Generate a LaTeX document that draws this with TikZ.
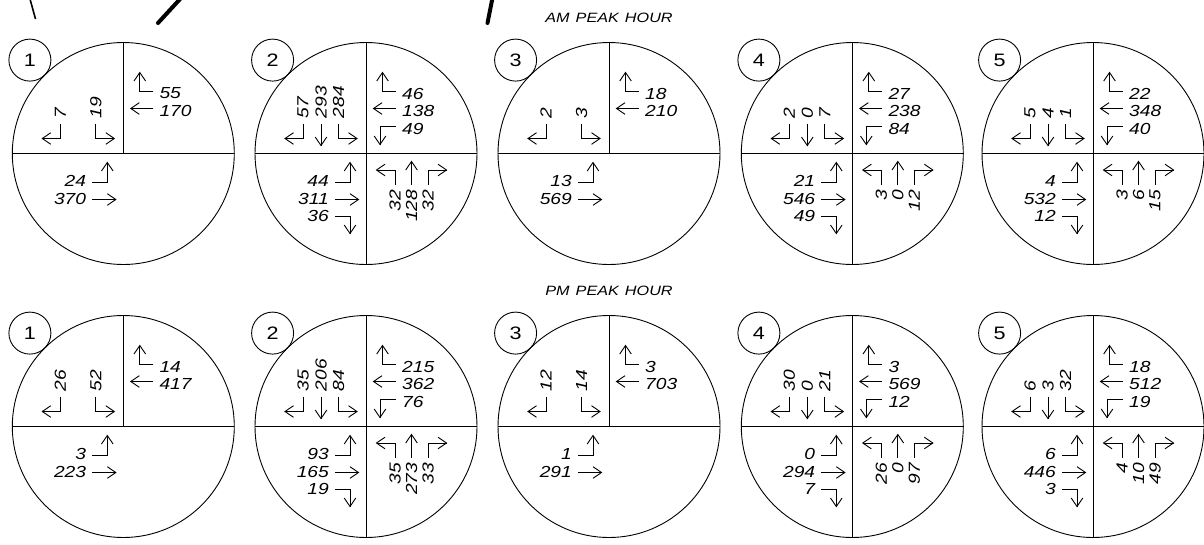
\documentclass[tikz,border=0pt]{standalone}
\usepackage{fontspec}
\newfontfamily\cadfont{Liberation Sans}[FakeStretch=1.2]
\usetikzlibrary{arrows.meta}
\tikzset{
  ln/.style={line width=0.9pt, draw=black},
  hd/.pic={\draw[ln, line join=miter] (-8.5,-5.8) -- (0,0) -- (-8.5,5.8);},
  big/.style={circle, ln, minimum size=222pt, inner sep=0pt, outer sep=0pt},
  tag/.style={circle, ln, minimum size=42pt, inner sep=0pt, outer sep=0pt, text=black,
    font=\cadfont\fontsize{18}{18}\selectfont},
  num/.style={inner sep=0pt, text=black, font=\cadfont\itshape\fontsize{16}{16}\selectfont},
  vnum/.style={num, rotate=90},
  ttl/.style={inner sep=0pt, text=black, font=\cadfont\itshape\fontsize{13.5}{13.5}\selectfont},
  stroke/.style={line width=4pt, line cap=round, draw=black}
}
% arrow heads: right 0, up 90, left 180, down -90
\newcommand\tipR[1]{\pic at #1 {hd};}
\newcommand\tipL[1]{\pic[rotate=180] at #1 {hd};}
\newcommand\tipU[1]{\pic[rotate=90] at #1 {hd};}
\newcommand\tipD[1]{\pic[rotate=-90] at #1 {hd};}
% movements, drawn in a scope shifted to the junction centre
\newcommand\ulL[1]{\draw[ln] (-63,-30) -- (-63,-15) -- (-81,-15); \tipL{(-81,-15)} \node[vnum,anchor=west] (\J ulL) at (-63,-35) {#1};}
\newcommand\ulT[1]{\draw[ln] (-45,-30) -- (-45,-8); \tipD{(-45,-8)} \node[vnum,anchor=west] (\J ulT) at (-45,-35) {#1};}
\newcommand\ulR[1]{\draw[ln] (-27.5,-30) -- (-27.5,-15) -- (-9,-15); \tipR{(-9,-15)} \node[vnum,anchor=west] (\J ulR) at (-27.5,-35) {#1};}
\newcommand\urU[1]{\draw[ln] (30,-62.5) -- (16.5,-62.5) -- (16.5,-81); \tipU{(16.5,-81)} \node[num,anchor=west] (\J urU) at (36,-60) {#1};}
\newcommand\urT[1]{\draw[ln] (30,-45) -- (7.5,-45); \tipL{(7.5,-45)} \node[num,anchor=west] (\J urT) at (36,-43) {#1};}
\newcommand\urR[1]{\draw[ln] (30,-27) -- (14,-27) -- (14,-9); \tipD{(14,-9)} \node[num,anchor=west] (\J urR) at (36,-25) {#1};}
\newcommand\llU[1]{\draw[ln] (-31,28.5) -- (-16,28.5) -- (-16,9); \tipU{(-16,9)} \node[num,anchor=east] (\J llU) at (-37,27) {#1};}
\newcommand\llT[1]{\draw[ln] (-31,46) -- (-7.5,46); \tipR{(-7.5,46)} \node[num,anchor=east] (\J llT) at (-37,45.5) {#1};}
\newcommand\llR[1]{\draw[ln] (-31,62.5) -- (-16,62.5) -- (-16,80); \tipD{(-16,80)} \node[num,anchor=east] (\J llR) at (-37,62) {#1};}
\newcommand\lrL[1]{\draw[ln] (29,31.5) -- (29,16.5) -- (10.5,16.5); \tipL{(10.5,16.5)} \node[vnum,anchor=east] (\J lrL) at (29,36) {#1};}
\newcommand\lrT[1]{\draw[ln] (45.5,31.5) -- (45.5,8); \tipU{(45.5,8)} \node[vnum,anchor=east] (\J lrT) at (45.5,36) {#1};}
\newcommand\lrR[1]{\draw[ln] (62,31.5) -- (62,16.5) -- (80.5,16.5); \tipR{(80.5,16.5)} \node[vnum,anchor=east] (\J lrR) at (62,36) {#1};}
% junction frame: name, cx, cy, tag, full cross (1) or half (0)
\newcommand\jct[5]{%
  \node[big] (#1) at (#2,#3) {};
  \node[tag] (#1t) at ({#2-93.4},{#3-93.4}) {#4};
  \draw[ln] (#1.west) -- (#1.east);
  \ifnum#5=1 \draw[ln] (#1.north) -- (#1.south);\else\draw[ln] (#1.north) -- (#1.center);\fi
}
\begin{document}
\begin{tikzpicture}[x=1pt,y=-1pt]
\useasboundingbox (0,0) rectangle (1204,544);
\fill[white] (0,0) rectangle (1204,544);
% cut-off strokes at the top edge
\draw[line width=1.6pt, draw=black] (30,-1) -- (35.5,19);
\draw[stroke] (181,-2) -- (158,23);
\draw[stroke] (492.5,-2) -- (487.5,23);
% titles
\node[ttl] (amt) at (609,18) {AM\hspace{0.45em}PEAK\hspace{0.45em}HOUR};
\node[ttl] (pmt) at (609,291) {PM\hspace{0.45em}PEAK\hspace{0.45em}HOUR};
% ---------------- AM ----------------
\jct{a1}{123.3}{153.5}{1}{0}
\begin{scope}[shift={(123.3,153.5)}]\def\J{a1}
 \ulL{7}\ulR{19}\urU{55}\urT{170}\llU{24}\llT{370}
\end{scope}
\jct{a2}{366}{153.5}{2}{1}
\begin{scope}[shift={(366,153.5)}]\def\J{a2}
 \ulL{57}\ulT{293}\ulR{284}\urU{46}\urT{138}\urR{49}
 \llU{44}\llT{311}\llR{36}\lrL{32}\lrT{128}\lrR{32}
\end{scope}
\jct{a3}{609}{153.5}{3}{0}
\begin{scope}[shift={(609,153.5)}]\def\J{a3}
 \ulL{2}\ulR{3}\urU{18}\urT{210}\llU{13}\llT{569}
\end{scope}
\jct{a4}{852.3}{153.5}{4}{1}
\begin{scope}[shift={(852.3,153.5)}]\def\J{a4}
 \ulL{2}\ulT{0}\ulR{7}\urU{27}\urT{238}\urR{84}
 \llU{21}\llT{546}\llR{49}\lrL{3}\lrT{0}\lrR{12}
\end{scope}
\jct{a5}{1093}{153.5}{5}{1}
\begin{scope}[shift={(1093,153.5)}]\def\J{a5}
 \ulL{5}\ulT{4}\ulR{1}\urU{22}\urT{348}\urR{40}
 \llU{4}\llT{532}\llR{12}\lrL{3}\lrT{6}\lrR{15}
\end{scope}
% ---------------- PM ----------------
\jct{p1}{123.3}{426.5}{1}{0}
\begin{scope}[shift={(123.3,426.5)}]\def\J{p1}
 \ulL{26}\ulR{52}\urU{14}\urT{417}\llU{3}\llT{223}
\end{scope}
\jct{p2}{366}{426.5}{2}{1}
\begin{scope}[shift={(366,426.5)}]\def\J{p2}
 \ulL{35}\ulT{206}\ulR{84}\urU{215}\urT{362}\urR{76}
 \llU{93}\llT{165}\llR{19}\lrL{35}\lrT{273}\lrR{33}
\end{scope}
\jct{p3}{609}{426.5}{3}{0}
\begin{scope}[shift={(609,426.5)}]\def\J{p3}
 \ulL{12}\ulR{14}\urU{3}\urT{703}\llU{1}\llT{291}
\end{scope}
\jct{p4}{852.3}{426.5}{4}{1}
\begin{scope}[shift={(852.3,426.5)}]\def\J{p4}
 \ulL{30}\ulT{0}\ulR{21}\urU{3}\urT{569}\urR{12}
 \llU{0}\llT{294}\llR{7}\lrL{26}\lrT{0}\lrR{97}
\end{scope}
\jct{p5}{1093}{426.5}{5}{1}
\begin{scope}[shift={(1093,426.5)}]\def\J{p5}
 \ulL{6}\ulT{3}\ulR{32}\urU{18}\urT{512}\urR{19}
 \llU{6}\llT{446}\llR{3}\lrL{4}\lrT{10}\lrR{49}
\end{scope}
\end{tikzpicture}
\end{document}
